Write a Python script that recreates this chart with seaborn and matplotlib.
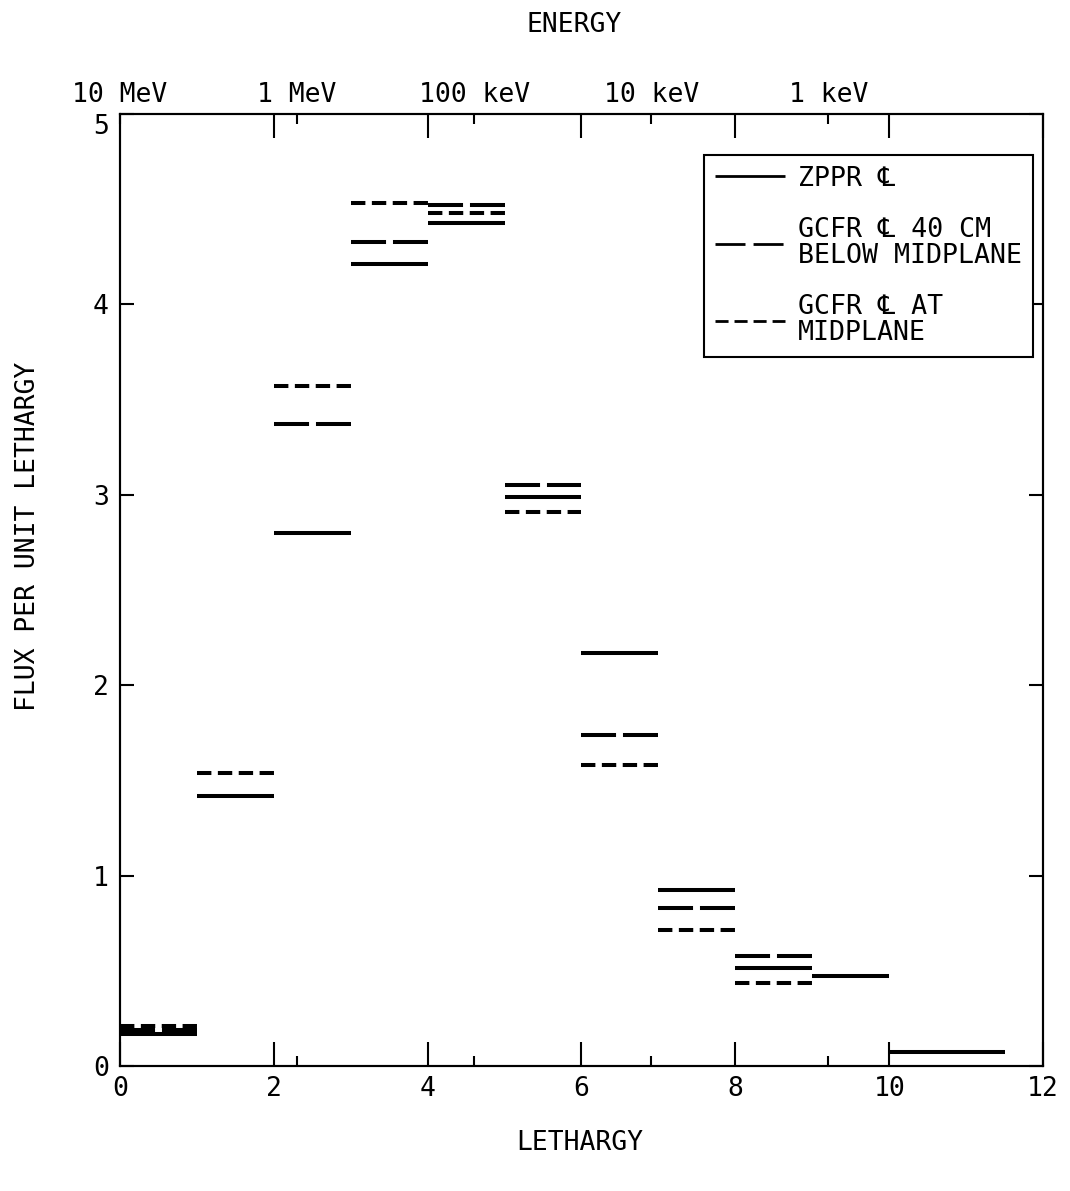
import numpy as np
import pandas as pd
import matplotlib
matplotlib.use("Agg")
import matplotlib.pyplot as plt
from matplotlib.lines import Line2D
import seaborn as sns

# Lethargy group boundaries (u = ln(10 MeV / E))
group_lo = [0, 1, 2, 3, 4, 5, 6, 7, 8, 9, 10]
group_hi = [1, 2, 3, 4, 5, 6, 7, 8, 9, 10, 11.5]

# Group fluxes per unit lethargy
zppr_cl = [0.17, 1.42, 2.80, 4.21, 4.43, 2.99, 2.17, 0.924, 0.515, 0.473, 0.074]
gcfr_40cm_below = [0.19, np.nan, 3.37, 4.33, 4.52, 3.05, 1.74, 0.83, 0.578, np.nan, np.nan]
gcfr_midplane = [0.21, 1.54, 3.57, 4.53, 4.48, 2.91, 1.58, 0.714, 0.436, np.nan, np.nan]

series_keys = ["zppr", "gcfr40", "gcfrmid"]
legend_labels = ["ZPPR \u2104",
                 "GCFR \u2104 40 CM\nBELOW MIDPLANE",
                 "GCFR \u2104 AT\nMIDPLANE"]

# Energy decades on the upper axis
energy_labels = ["10 MeV", "1 MeV", "100 keV", "10 keV", "1 keV"]
energy_values_ev = [1e7, 1e6, 1e5, 1e4, 1e3]
energy_ticks = [np.log(1e7 / e) for e in energy_values_ev]

sns.set_style("ticks")
plt.rcParams["font.family"] = ["DejaVu Sans Mono", "DejaVu Sans"]
for k in ["text.color", "axes.labelcolor", "xtick.color", "ytick.color", "axes.edgecolor"]:
    plt.rcParams[k] = "black"

# Long-form table: each group bar is one two-point segment
rows = []
for key, vals in zip(series_keys, [zppr_cl, gcfr_40cm_below, gcfr_midplane]):
    for i, (lo, hi, v) in enumerate(zip(group_lo, group_hi, vals)):
        if np.isnan(v):
            continue
        rows.append(dict(u=lo, flux=v, series=key, seg=f"{key}-{i}"))
        rows.append(dict(u=hi, flux=v, series=key, seg=f"{key}-{i}"))
df = pd.DataFrame(rows)

dash_map = {"zppr": "", "gcfr40": (8.7, 1.72), "gcfrmid": (3.57, 1.61)}

fig = plt.figure(figsize=(10.7, 11.91), dpi=100)
ax = fig.add_axes([0.1121, 0.1050, 0.9748 - 0.1121, 0.9043 - 0.1050])

sns.lineplot(data=df, x="u", y="flux", style="series", style_order=series_keys,
             units="seg", estimator=None, sort=False, dashes=dash_map,
             color="black", linewidth=2.9, legend=False, ax=ax,
             dash_capstyle="butt", solid_capstyle="butt")

ax.set_xlim(0, 12)
ax.set_ylim(0, 5)
ax.set_xlabel("")
ax.set_ylabel("")
ax.set_xticks(range(0, 13, 2))
ax.set_xticks(energy_ticks, minor=True)
ax.set_yticks(range(0, 6))
ax.tick_params(axis="x", which="major", direction="in", length=17, width=1.5,
               labelsize=19, pad=7)
ax.tick_params(axis="x", which="minor", direction="in", length=7, width=1.5)
ax.tick_params(axis="y", which="major", direction="in", length=10, width=1.5,
               left=True, right=True, labelsize=19, pad=8)
for sp in ax.spines.values():
    sp.set_visible(True)
    sp.set_linewidth(1.5)
    sp.set_color("black")
# the top y label hangs just below the upper frame
ax.get_yticklabels()[-1].set_va("top")

# Energy scale on top
ax2 = ax.twiny()
ax2.set_xlim(0, 12)
ax2.set_xticks(energy_ticks)
ax2.set_xticklabels(energy_labels)
ax2.set_xticks(range(0, 13, 2), minor=True)
ax2.tick_params(axis="x", which="major", direction="in", length=7, width=1.5,
                labelsize=19, pad=4)
ax2.tick_params(axis="x", which="minor", direction="in", length=17, width=1.5)
for sp in ax2.spines.values():
    sp.set_linewidth(1.5)

fs_leg = 19.2
handles = [
    Line2D([], [], color="black", lw=2, solid_capstyle="butt"),
    Line2D([], [], color="black", lw=2, dashes=(10.8, 2.9), dash_capstyle="butt"),
    Line2D([], [], color="black", lw=2, dashes=(4.7, 2.15), dash_capstyle="butt"),
]
leg = ax.legend(handles, legend_labels, loc="upper right",
                bbox_to_anchor=(0.989, 0.957), borderaxespad=0,
                fontsize=fs_leg, handlelength=2.63, handletextpad=0.49,
                borderpad=0.4, labelspacing=0.95, fancybox=False,
                framealpha=1, edgecolor="black")
leg.get_frame().set_linewidth(1.5)
for t in leg.get_texts():
    t.set_linespacing(1.0)

fig.text(0.537, 1 - 25 / 1191, "ENERGY", ha="center", va="center", fontsize=19)
fig.text(0.542, 1 - 1143 / 1191, "LETHARGY", ha="center", va="center", fontsize=19)
fig.text(28 / 1070, 0.55, "FLUX PER UNIT LETHARGY", ha="center", va="center",
         rotation=90, fontsize=19)

fig.savefig("out.png", dpi=100)
